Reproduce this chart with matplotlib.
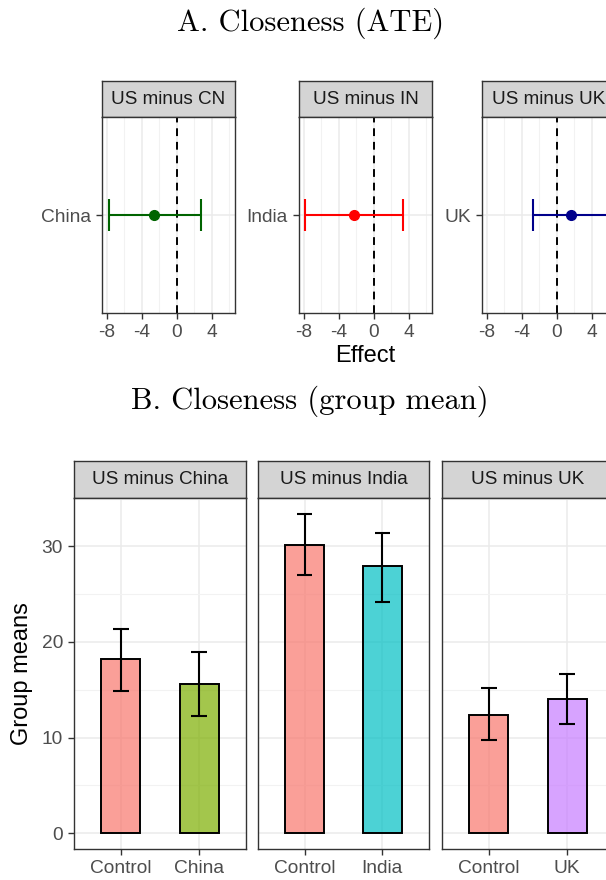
import matplotlib
matplotlib.use("Agg")
import matplotlib.pyplot as plt
import numpy as np

plt.rcParams['font.family'] = ['Liberation Sans', 'DejaVu Sans']

# ---- Data ----
ate_titles = ["US minus CN", "US minus IN", "US minus UK"]
ate_labels = ["China", "India", "UK"]
ate_est = [-2.6, -2.3, 1.63]
ate_lo = [-7.8, -7.85, -2.68]
ate_hi = [2.75, 3.28, 5.94]
ate_colors = ["#006400", "#FF0000", "#00008B"]
ate_ticks = [-8, -4, 0, 4]

grp_titles = ["US minus China", "US minus India", "US minus UK"]
grp_cats = [["Control", "China"], ["Control", "India"], ["Control", "UK"]]
grp_means = [[18.2, 15.6], [30.2, 27.9], [12.4, 14.0]]
grp_lo = [[14.9, 12.3], [27.0, 24.2], [9.7, 11.4]]
grp_hi = [[21.4, 18.9], [33.4, 31.4], [15.2, 16.6]]
grp_colors = [["#F8766D", "#7CAE00"], ["#F8766D", "#00BFC4"], ["#F8766D", "#C77CFF"]]
grp_yticks = [0, 10, 20, 30]

W, H = 606, 880
fig = plt.figure(figsize=(W / 100, H / 100), dpi=100)

def px_axes(x0, y0, x1, y1):
    return fig.add_axes([x0 / W, 1 - y1 / H, (x1 - x0) / W, (y1 - y0) / H])

GRID = "#EBEBEB"
BORDER = "#333333"
TICKC = "#4D4D4D"
FS_TICK = 13.8

def style_panel(ax):
    for s in ax.spines.values():
        s.set_color(BORDER)
        s.set_linewidth(1.0)
    ax.set_facecolor("white")
    ax.tick_params(colors=BORDER, labelcolor=TICKC, labelsize=FS_TICK,
                   length=4, width=1.0, pad=4)
    ax.set_axisbelow(True)

def strip(x0, x1, y0, y1, text):
    s = px_axes(x0, y0, x1, y1)
    s.set_facecolor("#D4D4D4")
    s.set_xticks([]); s.set_yticks([])
    for sp in s.spines.values():
        sp.set_color(BORDER)
        sp.set_linewidth(1.0)
    s.text(0.5, 0.5, text, ha="center", va="center", fontsize=13.6,
           color="#1A1A1A", transform=s.transAxes)

# ---- Titles ----
fig.text(311 / W, 1 - 23 / H, "A. Closeness (ATE)", family="cmr10",
         fontsize=22, ha="center", va="center")
fig.text(310 / W, 1 - 401 / H, "B. Closeness (group mean)", family="cmr10",
         fontsize=22, ha="center", va="center")

# ---- Panel A ----
top_x = [(102, 235), (299, 432), (482, 615)]
for i in range(3):
    x0, x1 = top_x[i]
    strip(x0, x1, 81, 117, ate_titles[i])
    ax = px_axes(x0, 117, x1, 313)
    style_panel(ax)
    ax.set_xlim(-8.56, 6.63)
    ax.set_ylim(0.4, 1.6)
    ax.set_xticks(ate_ticks)
    ax.set_xticklabels([str(t) for t in ate_ticks])
    ax.set_xticks([-6, -2, 2, 6], minor=True)
    ax.tick_params(axis="x", which="minor", length=0)
    ax.set_yticks([1])
    ax.set_yticklabels([ate_labels[i]])
    ax.grid(True, which="major", color=GRID, linewidth=1.1)
    ax.grid(True, which="minor", axis="x", color="#F2F2F2", linewidth=0.8)
    ax.axvline(0, color="black", linestyle=(0, (4, 3)), linewidth=1.4)
    c = ate_colors[i]
    ax.hlines([1], [ate_lo[i]], [ate_hi[i]], color=c, linewidth=1.5)
    ax.vlines([ate_lo[i], ate_hi[i]], 0.9, 1.1, color=c, linewidth=1.5)
    ax.plot([ate_est[i]], [1], "o", color=c, markersize=7)
    if i == 1:
        ax.set_xlabel("Effect", fontsize=17, color="black", labelpad=3)

# ---- Panel B ----
bot_x = [(74, 246), (258, 429), (442, 614)]
for i in range(3):
    x0, x1 = bot_x[i]
    strip(x0, x1, 461, 498, grp_titles[i])
    ax = px_axes(x0, 498, x1, 849)
    style_panel(ax)
    pos = np.arange(1, len(grp_cats[i]) + 1)
    ax.set_xlim(0.4, 2.6)
    ax.set_ylim(-1.67, 35.07)
    ax.set_xticks(pos)
    ax.set_xticklabels(grp_cats[i])
    ax.set_yticks(grp_yticks)
    ax.set_yticks([5, 15, 25, 35], minor=True)
    ax.tick_params(axis="y", which="minor", length=0)
    ax.grid(True, which="major", color=GRID, linewidth=1.1)
    ax.grid(True, which="minor", axis="y", color="#F2F2F2", linewidth=0.8)
    if i > 0:
        ax.set_yticklabels([])
        ax.tick_params(axis="y", which="both", length=0)
    else:
        ax.set_ylabel("Group means", fontsize=17, color="black", labelpad=6)
    ax.bar(pos, grp_means[i], width=0.5, color=grp_colors[i], alpha=0.7,
           edgecolor="none", zorder=2)
    ax.bar(pos, grp_means[i], width=0.5, color="none", edgecolor="black",
           linewidth=1.4, zorder=3)
    lo = np.array(grp_lo[i]); hi = np.array(grp_hi[i])
    ax.vlines(pos, lo, hi, color="black", linewidth=1.5, zorder=4)
    ax.hlines(np.concatenate([lo, hi]), np.concatenate([pos, pos]) - 0.1,
              np.concatenate([pos, pos]) + 0.1, color="black", linewidth=1.5,
              zorder=4)

fig.savefig("out.png", dpi=100)
